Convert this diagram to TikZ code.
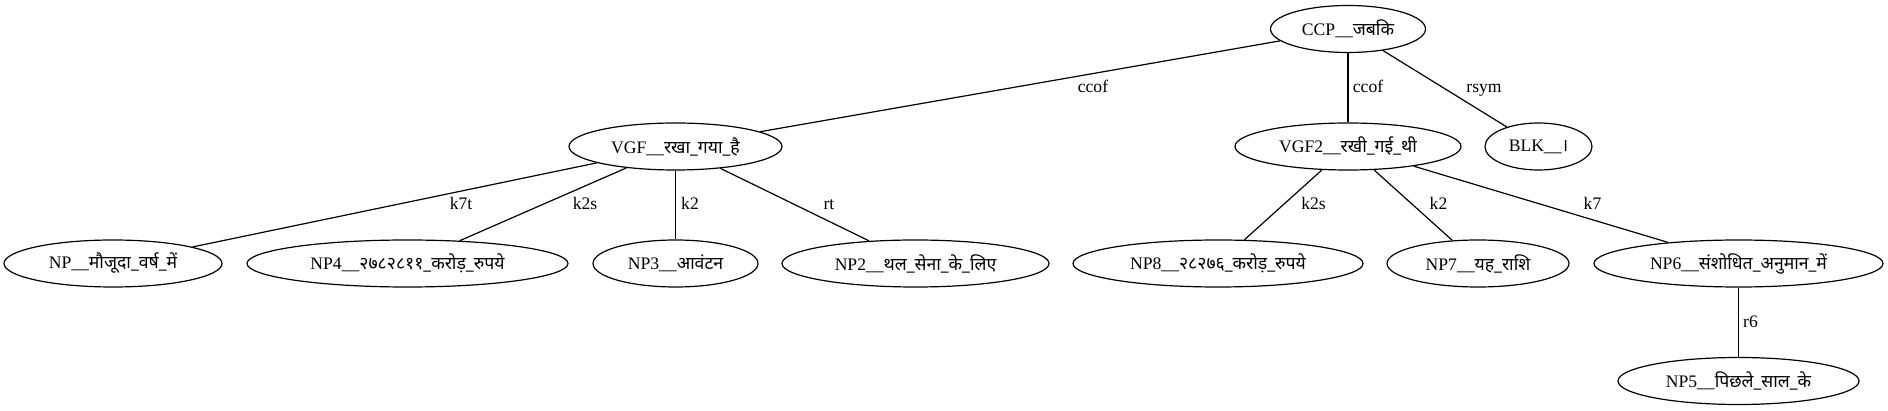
\documentclass[tikz,border=0pt]{standalone}
\usepackage{fontspec}
\usetikzlibrary{shapes.geometric}
\setmainfont{Liberation Serif}
\newfontfamily\devfont[Script=Devanagari]{Noto Sans}
\newcommand{\hin}[1]{{\devfont #1}}
\tikzset{
	tok/.style={draw, ellipse, inner sep=0pt, minimum height=47pt},
	rel/.style={anchor=base, inner sep=0pt},
}
\begin{document}
\begin{tikzpicture}[x=1pt,y=-1pt,line width=1.2pt,font=\fontsize{17.6}{21}\selectfont]
	\useasboundingbox (0,0) rectangle (1888,411);
	% top
	\node[tok, minimum width=155pt] (CCP) at (1348,29) {CCP\_\_\hin{जबकि}};
	
	% verb groups and the full stop
	\node[tok, minimum width=213pt] (VGF) at (675.5,146.5) {VGF\_\_\hin{रखा\_गया\_है}};
	\node[tok, minimum width=226pt] (VGF2) at (1348,146.5) {VGF2\_\_\hin{रखी\_गई\_थी}};
	\node[tok, minimum width=107pt] (BLK) at (1538.5,146.5) {BLK\_\_\hin{।}};
	
	% noun phrases
	\node[tok, minimum width=218pt] (NP) at (113,263.5) {NP\_\_\hin{मौजूदा\_वर्ष\_में}};
	\node[tok, minimum width=321pt] (NP4) at (407.5,263.5) {NP4\_\_\hin{२७८२८११\_करोड़\_रुपये}};
	\node[tok, minimum width=165pt] (NP3) at (675.5,263.5) {NP3\_\_\hin{आवंटन}};
	\node[tok, minimum width=267pt] (NP2) at (915.5,263.5) {NP2\_\_\hin{थल\_सेना\_के\_लिए}};
	\node[tok, minimum width=290pt] (NP8) at (1218,263.5) {NP8\_\_\hin{२८२७६\_करोड़\_रुपये}};
	\node[tok, minimum width=182pt] (NP7) at (1478,263.5) {NP7\_\_\hin{यह\_राशि}};
	\node[tok, minimum width=289pt] (NP6) at (1738.5,263.5) {NP6\_\_\hin{संशोधित\_अनुमान\_में}};
	\node[tok, minimum width=241pt] (NP5) at (1738.5,381) {NP5\_\_\hin{पिछले\_साल\_के}};
	
	\draw (CCP) -- (VGF);
	\draw (CCP) -- (VGF2);
	\draw (CCP) -- (BLK);
	\node[rel] at (1093,93) {ccof};
	\node[rel] at (1368,93) {ccof};
	\node[rel] at (1484,93) {rsym};
	
	\draw (VGF) -- (NP);
	\draw (VGF) -- (NP4);
	\draw (VGF) -- (NP3);
	\draw (VGF) -- (NP2);
	\node[rel] at (461,210) {k7t};
	\node[rel] at (585,210) {k2s};
	\node[rel] at (690,210) {k2};
	\node[rel] at (829,210) {rt};
	
	\draw (VGF2) -- (NP8);
	\draw (VGF2) -- (NP7);
	\draw (VGF2) -- (NP6);
	\node[rel] at (1313.5,210) {k2s};
	\node[rel] at (1438.5,210) {k2};
	\node[rel] at (1592.5,210) {k7};
	
	\draw (NP6) -- (NP5);
	\node[rel] at (1750.5,328) {r6};
\end{tikzpicture}
\end{document}
